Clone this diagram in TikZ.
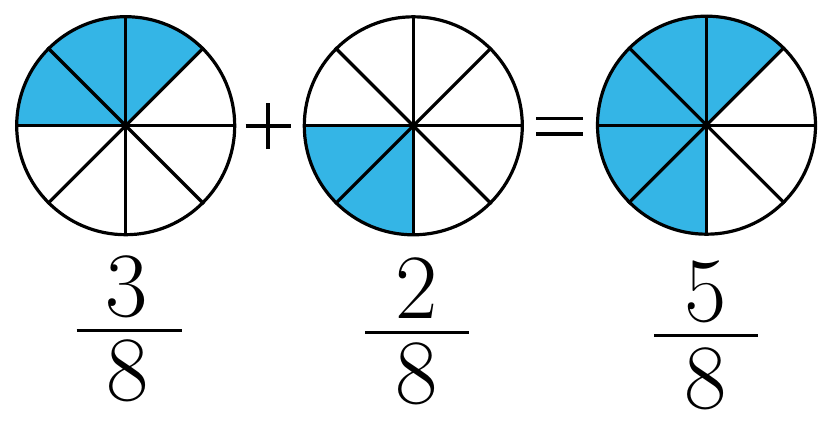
\documentclass[tikz,border=0pt]{standalone}
\usepackage{tikz}
\usetikzlibrary{calc}
\usepackage{xcolor}
\definecolor{piefill}{HTML}{34B5E6}

\begin{document}
\begin{tikzpicture}[
    x=1pt, y=1pt,
    pie/.style={
        circle,
        draw=black,
        line width=3.2pt,
        minimum size=218pt,
        inner sep=0pt
    },
    spoke/.style={
        line width=3.2pt,
        black
    },
    share/.style={
        fill=piefill
    },
    sign/.style={
        line width=3.6pt,
        black
    },
    digit/.style={
        font=\fontsize{92}{92}\selectfont,
        inner sep=0pt,
        text depth=0pt
    },
    bar/.style={
        line width=3pt,
        black
    }
]

\useasboundingbox (0,0) rectangle (834,-428);

% Centres
\coordinate (o1) at (125.7,-125.7);
\coordinate (o2) at (413.3,-125.8);
\coordinate (o3) at (706.5,-125.2);

% Shaded parts
\fill[share] (o1) -- ++(45:109) arc[start angle=45, end angle=180, radius=109] -- cycle;
\fill[share] (o2) -- ++(180:109) arc[start angle=180, end angle=270, radius=109] -- cycle;
\fill[share] (o3) -- ++(45:109) arc[start angle=45, end angle=270, radius=109] -- cycle;

% Circles
\node[pie] (c1) at (o1) {};
\node[pie] (c2) at (o2) {};
\node[pie] (c3) at (o3) {};

% Spokes
\foreach \c in {c1,c2,c3} {
    \draw[spoke] (\c.0) -- (\c.180);
    \draw[spoke] (\c.90) -- (\c.270);
    \draw[spoke] (\c.45) -- (\c.225);
    \draw[spoke] (\c.135) -- (\c.315);
}

% Plus and equals
\coordinate (plus) at (268,-126);
\draw[sign] ($(plus)+(-22.5,0)$) -- ($(plus)+(22.5,0)$);
\draw[sign] ($(plus)+(0,-23)$) -- ($(plus)+(0,23)$);
\coordinate (eq) at (559.3,-126.2);
\draw[sign] ($(eq)+(-23.3,7.9)$) -- ($(eq)+(23.3,7.9)$);
\draw[sign] ($(eq)+(-23.3,-7.9)$) -- ($(eq)+(23.3,-7.9)$);

% Fractions
\node[digit, anchor=base] (n1) at (127,-316) {3};
\draw[bar] (76.7,-330.7) coordinate (b1l) -- (181.7,-330.7) coordinate (b1r);
\node[digit, anchor=north] (d1) at (128,-339) {8};

\node[digit, anchor=base] (n2) at (417,-318.5) {2};
\draw[bar] (365,-332.7) coordinate (b2l) -- (469.3,-332.7) coordinate (b2r);
\node[digit, anchor=north] (d2) at (417,-342) {8};

\node[digit, anchor=base] (n3) at (706,-321) {5};
\draw[bar] (654,-335) coordinate (b3l) -- (758.3,-335) coordinate (b3r);
\node[digit, anchor=north] (d3) at (706,-347) {8};

\end{tikzpicture}
\end{document}
